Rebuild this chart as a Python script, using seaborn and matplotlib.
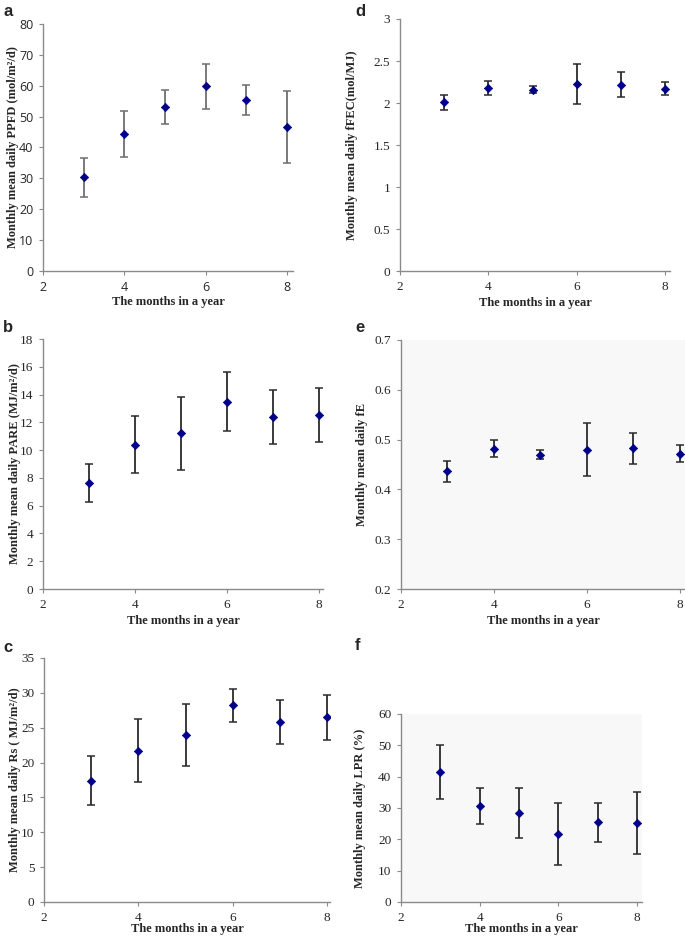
import numpy as np
import pandas as pd
import matplotlib
matplotlib.use('Agg')
import matplotlib.pyplot as plt
import seaborn as sns

# meses
meses = [3, 4, 5, 6, 7, 8]

# a - PPFD
ppfd = [30.3, 44.4, 53.1, 59.8, 55.4, 46.6]
ppfd_err = [6.2, 7.4, 5.5, 7.4, 5.0, 11.7]
# b - PARE
pare = [7.6, 10.4, 11.2, 13.5, 12.4, 12.5]
pare_err = [1.37, 2.08, 2.62, 2.09, 1.93, 1.94]
# c - Rs
rs = [17.4, 21.7, 23.9, 28.2, 25.8, 26.5]
rs_err = [3.5, 4.5, 4.45, 2.4, 3.2, 3.2]
# d - fFEC
ffec = [2.01, 2.18, 2.16, 2.23, 2.22, 2.17]
ffec_err = [0.09, 0.085, 0.045, 0.24, 0.15, 0.08]
# e - fE
fe = [0.436, 0.482, 0.470, 0.480, 0.483, 0.472]
fe_err = [0.021, 0.017, 0.009, 0.054, 0.031, 0.017]
# f - LPR
lpr = [41.4, 30.6, 28.3, 21.7, 25.4, 25.3]
lpr_err = [8.6, 5.8, 8.0, 9.8, 6.2, 9.9]

sns.set_style('white')
serif = ['Liberation Serif', 'DejaVu Serif']

W, H = 685, 936
fig = plt.figure(figsize=(W / 100, H / 100), dpi=100)


def panel(box, x, y, err, ylim, yticks, ylabel, xmax, letter, letter_xy,
          ylab_x, xlab_y, ecol='#2b2b2b', tickfont=serif, ticksize=9.5, bg='white'):
    left, top, right, bottom = box
    ax = fig.add_axes([left / W, (H - bottom) / H, (right - left) / W, (bottom - top) / H])
    ax.set_facecolor(bg)
    df = pd.DataFrame({'mes': x, 'val': y, 'err': err})
    ax.errorbar(df['mes'], df['val'], yerr=df['err'], fmt='none', ecolor=ecol,
                elinewidth=1.3, capsize=3, capthick=1.1, zorder=2)
    sns.scatterplot(data=df, x='mes', y='val', marker='D', s=18, color='#00008B',
                    edgecolor='#00008B', linewidth=0.5, ax=ax, zorder=3)
    ax.set_xlim(2, xmax)
    ax.set_ylim(*ylim)
    ax.set_xticks([2, 4, 6, 8])
    ax.set_yticks(yticks)
    ax.set_yticklabels([f'{t:g}' for t in yticks])
    for s in ['top', 'right']:
        ax.spines[s].set_visible(False)
    for s in ['left', 'bottom']:
        ax.spines[s].set_color('#8a8a8a')
        ax.spines[s].set_linewidth(1.0)
    ax.tick_params(axis='both', direction='out', length=3, width=0.8, color='#8a8a8a',
                   labelsize=ticksize, pad=4, left=True, bottom=True)
    for lab in ax.get_xticklabels() + ax.get_yticklabels():
        lab.set_family(tickfont)
    ax.set_ylabel(ylabel, family=serif, fontweight='bold', fontsize=9)
    ax.yaxis.set_label_coords(ylab_x, 0.5)
    ax.set_xlabel('The months in a year', family=serif, fontweight='bold', fontsize=9)
    ax.xaxis.set_label_coords(0.5, xlab_y)
    fig.text(letter_xy[0] / W, 1 - letter_xy[1] / H, letter, family=['Liberation Sans'],
             fontweight='bold', fontsize=12, ha='left', va='center')
    return ax


panel((43, 24, 293, 271), meses, ppfd, ppfd_err, (0, 80), list(range(0, 81, 10)),
      'Monthly mean daily PPFD (mol/m²/d)', 8.15, 'a', (3, 11),
      -0.095, -0.1, ecol='#6e6e6e', tickfont=['Open Sans'], ticksize=9)
panel((43, 339, 323, 589), meses, pare, pare_err, (0, 18), list(range(0, 19, 2)),
      'Monthly mean daily PARE (MJ/m²/d)', 8.09, 'b', (3, 328),
      -0.08, -0.104)
panel((44, 658, 330, 902), meses, rs, rs_err, (0, 35), list(range(0, 36, 5)),
      'Monthly mean daily Rs ( MJ/m²/d)', 8.06, 'c', (3, 647),
      -0.08, -0.086)
panel((400, 19, 670, 271), meses, ffec, ffec_err, (0, 3), [0, 0.5, 1, 1.5, 2, 2.5, 3],
      'Monthly mean daily fFEC(mol/MJ)', 8.11, 'd', (355, 11),
      -0.155, -0.103)
panel((401, 340, 686, 589), meses, fe, fe_err, (0.2, 0.7), [0.2, 0.3, 0.4, 0.5, 0.6, 0.7],
      'Monthly mean daily fE', 8.13, 'e', (355, 328),
      -0.116, -0.104, bg='#f8f8f8')
panel((401, 714, 642, 902), meses, lpr, lpr_err, (0, 60), list(range(0, 61, 10)),
      'Monthly mean daily LPR (%)', 8.13, 'f', (355, 646),
      -0.145, -0.112, bg='#f8f8f8')

fig.savefig('out.png', dpi=100)
